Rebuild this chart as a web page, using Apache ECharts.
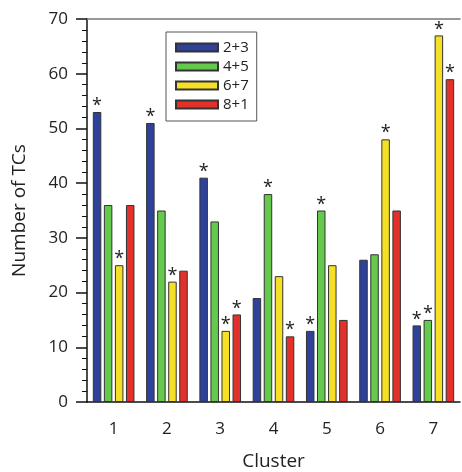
<!DOCTYPE html>
<html>
<head>
<meta charset="utf-8">
<script src="https://cdn.jsdelivr.net/npm/echarts@6/dist/echarts.min.js"></script>
<style>html,body{margin:0;padding:0;background:#fff;}#c{width:462px;height:472px;}</style>
</head>
<body>
<div id="c"></div>
<script>
const categories = ['1','2','3','4','5','6','7'];
const seriesNames = ['2+3','4+5','6+7','8+1'];
const s23 = [53, 51, 41, 19, 13, 26, 14];
const s45 = [36, 35, 33, 38, 35, 27, 15];
const s67 = [25, 22, 13, 23, 25, 48, 67];
const s81 = [36, 24, 16, 12, 15, 35, 59];
// significance markers (asterisks)
const sig23 = [1, 1, 1, 0, 1, 0, 1];
const sig45 = [0, 0, 0, 1, 1, 0, 1];
const sig67 = [1, 1, 1, 0, 0, 1, 1];
const sig81 = [0, 0, 1, 1, 0, 0, 1];
const yTicks = [0, 10, 20, 30, 40, 50, 60, 70];

const colors = ['#2f429b', '#64c94c', '#f6e026', '#e2302a'];
const values = [s23, s45, s67, s81];
const sigs = [sig23, sig45, sig67, sig81];
const FONT = '"Open Sans", "DejaVu Sans", sans-serif';

const chart = echarts.init(document.getElementById('c'));
chart.setOption({
  animation: false,
  textStyle: { fontFamily: FONT, color: '#222' },
  grid: { left: 87, top: 19, right: 2, bottom: 70, containLabel: false, outerBoundsMode: 'none' },
  legend: {
    orient: 'vertical',
    left: 166, top: 32,
    padding: [8, 8, 9, 9],
    borderColor: '#555', borderWidth: 1,
    icon: 'rect',
    itemWidth: 42, itemHeight: 8, itemGap: 4,
    textStyle: { fontSize: 15, color: '#222', fontFamily: FONT },
    data: seriesNames
  },
  xAxis: [{
    type: 'category',
    data: categories,
    name: 'Cluster',
    nameLocation: 'middle',
    nameGap: 50,
    nameTextStyle: { fontSize: 19, color: '#222' },
    axisLine: { lineStyle: { color: '#111', width: 1.5 } },
    axisTick: { alignWithLabel: true, length: 10, lineStyle: { color: '#111', width: 1.5 } },
    axisLabel: { fontSize: 17, color: '#222', margin: 19 }
  }, {
    type: 'category',
    data: categories,
    position: 'top',
    axisLine: { lineStyle: { color: '#777', width: 1.5 } },
    axisTick: { show: false },
    axisLabel: { show: false }
  }],
  yAxis: {
    type: 'value',
    min: 0, max: 70, interval: 10,
    name: 'Number of TCs',
    nameLocation: 'middle',
    nameGap: 58,
    nameTextStyle: { fontSize: 19, color: '#222' },
    axisLine: { show: true, lineStyle: { color: '#111', width: 1.5 } },
    axisTick: { show: true, length: 11, lineStyle: { color: '#111', width: 1.5 } },
    minorTick: { show: true, splitNumber: 5, length: 5, lineStyle: { color: '#111', width: 1 } },
    splitLine: { show: false },
    axisLabel: {
      fontSize: 17, color: '#222', margin: 19,
      formatter: v => yTicks.includes(v) ? String(v) : ''
    }
  },
  series: seriesNames.map((n, i) => ({
    name: n,
    type: 'bar',
    barWidth: 8.5,
    barGap: '30%',
    data: values[i],
    itemStyle: { color: colors[i], borderColor: '#333', borderWidth: 1 },
    label: {
      show: true,
      position: 'top',
      distance: -3,
      fontSize: 18,
      color: '#222',
      formatter: p => sigs[i][p.dataIndex] ? '*' : ''
    }
  }))
});
</script>
</body>
</html>
